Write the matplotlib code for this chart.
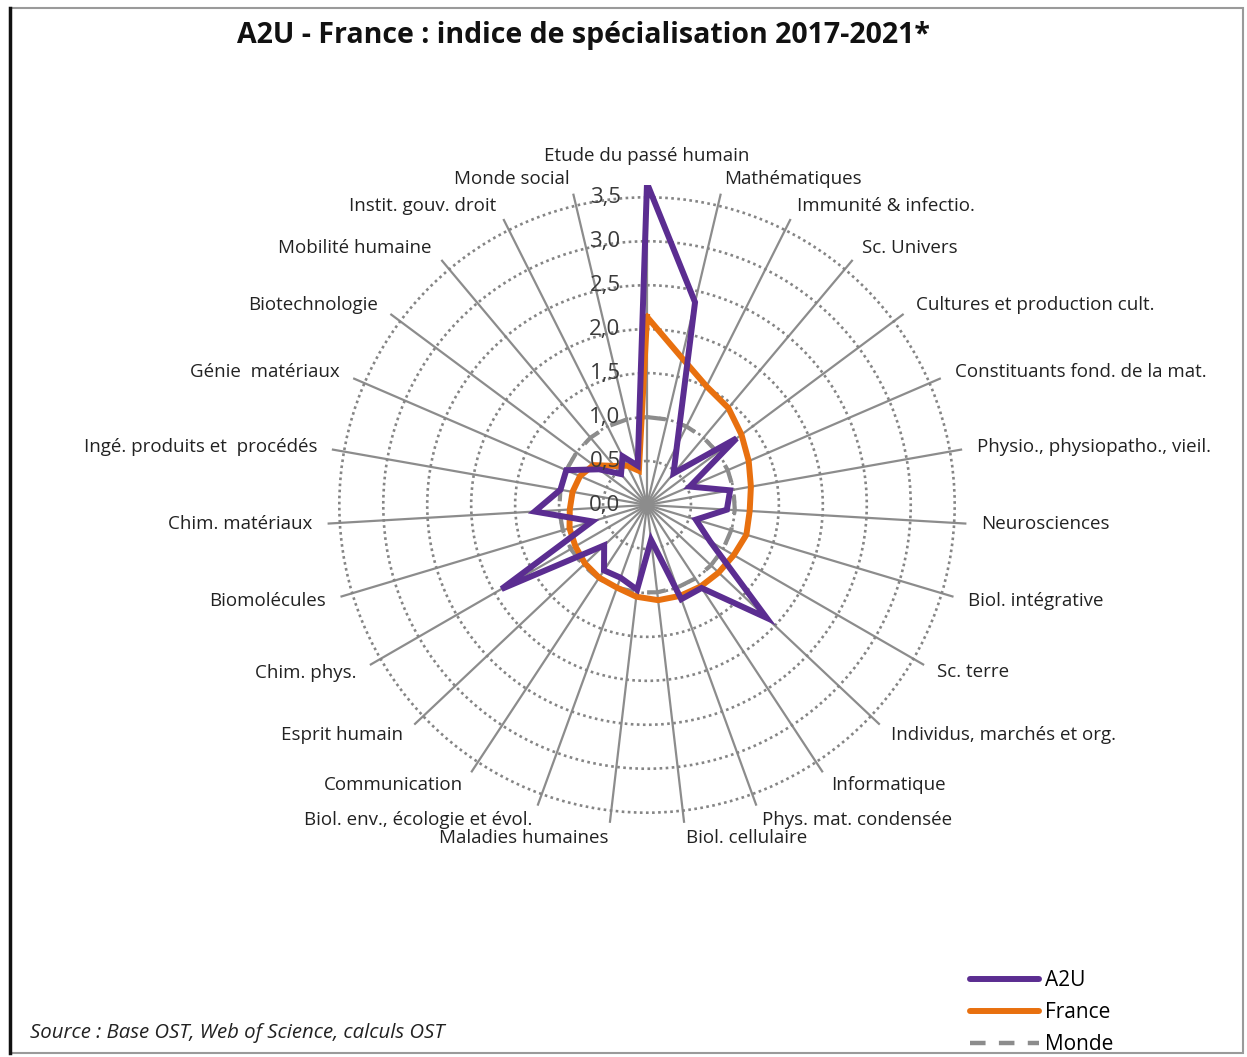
import numpy as np
import matplotlib
matplotlib.use("Agg")
import matplotlib.pyplot as plt
from matplotlib.lines import Line2D
from matplotlib.patches import Rectangle

plt.rcParams['font.family'] = ['Open Sans', 'DejaVu Sans']

# Disciplines, clockwise from the top
categories = [
    "Etude du passé humain", "Mathématiques", "Immunité & infectio.", "Sc. Univers",
    "Cultures et production cult.", "Constituants fond. de la mat.",
    "Physio., physiopatho., vieil.", "Neurosciences", "Biol. intégrative", "Sc. terre",
    "Individus, marchés et org.", "Informatique", "Phys. mat. condensée",
    "Biol. cellulaire", "Maladies humaines", "Biol. env., écologie et évol.",
    "Communication", "Esprit humain", "Chim. phys.", "Biomolécules", "Chim. matériaux",
    "Ingé. produits et  procédés", "Génie  matériaux", "Biotechnologie",
    "Mobilité humaine", "Instit. gouv. droit", "Monde social",
]

a2u = [3.66, 2.37, 0.76, 0.47, 1.27, 0.53, 0.96, 0.91, 0.58, 0.83,
       1.87, 1.13, 1.14, 0.40, 0.97, 0.88, 0.89, 0.67, 1.91, 0.65,
       1.28, 1.00, 1.00, 0.68, 0.46, 0.62, 0.46]

france = [2.14, 1.72, 1.51, 1.44, 1.34, 1.26, 1.20, 1.17, 1.18, 1.14,
          1.12, 1.11, 1.10, 1.09, 1.05, 1.00, 0.99, 0.97, 0.94, 0.92,
          0.88, 0.86, 0.83, 0.76, 0.58, 0.50, 0.40]

monde = [1.0] * len(categories)

r_ticks = [0.0, 0.5, 1.0, 1.5, 2.0, 2.5, 3.0, 3.5]
r_tick_labels = ["0,0", "0,5", "1,0", "1,5", "2,0", "2,5", "3,0", "3,5"]
r_max = 3.64

title = "A2U - France : indice de spécialisation 2017-2021*"
source = "Source : Base OST, Web of Science, calculs OST"

PURPLE = "#5b2d91"
ORANGE = "#e8700f"
GREY = "#8c8c8c"
TEXT = "#222222"

W, H = 1247, 1057
fig = plt.figure(figsize=(W / 100, H / 100), dpi=100)
fig.patch.set_facecolor("white")

# polar axes: centre (647, 505) px, outer radius 320 px
cx, cy, R = 647, 505, 320
ax = fig.add_axes([(cx - R) / W, (H - cy - R) / H, 2 * R / W, 2 * R / H],
                  projection="polar")
ax.set_theta_zero_location("N")
ax.set_theta_direction(-1)
ax.set_ylim(0, r_max)
ax.spines["polar"].set_visible(False)
ax.set_facecolor("none")

n = len(categories)
theta = np.arange(n) * 2 * np.pi / n
ax.set_thetagrids(np.degrees(theta), labels=[""] * n)
ax.set_rgrids(r_ticks[1:], labels=[""] * (len(r_ticks) - 1))
ax.xaxis.grid(True, color=GREY, linewidth=1.6, linestyle="-")
ax.yaxis.grid(True, color="#858585", linewidth=1.9, linestyle=(0, (1, 1.3)))
ax.tick_params(length=0, pad=0)


def closed(vals):
    return np.append(theta, theta[0]), np.append(vals, vals[0])


t, v = closed(monde)
ax.plot(t, v, color=GREY, linewidth=3.0, linestyle=(0, (4.5, 3.2)), zorder=3)
t, v = closed(france)
ax.plot(t, v, color=ORANGE, linewidth=4.3, zorder=4, solid_joinstyle="miter")
t, v = closed(a2u)
ax.plot(t, v, color=PURPLE, linewidth=4.3, zorder=5, solid_joinstyle="miter")

# radial scale labels, left of the vertical spoke
for rv, lab in zip(r_ticks, r_tick_labels):
    ax.annotate(lab, xy=(0, rv), xytext=(-19, 0), textcoords="offset points",
                ha="right", va="center", fontsize=16, color="#3a3a3a",
                zorder=6, annotation_clip=False)

# category labels around the chart
px_per_unit = R / r_max
for ang, lab in zip(theta, categories):
    s = np.sin(ang)
    if abs(s) < 0.05:
        ax.text(ang, 349 / px_per_unit, lab, ha="center", va="center",
                fontsize=13.5, color=TEXT, clip_on=False)
    else:
        ax.text(ang, 335 / px_per_unit, lab, ha="left" if s > 0 else "right",
                va="center", fontsize=13.5, color=TEXT, clip_on=False)

fig.text(583 / W, 1 - 36 / H, title, ha="center", va="center",
         fontsize=20.5, fontweight="bold", color="#111111")
fig.text(30 / W, 1 - 1033 / H, source, ha="left", va="center",
         fontsize=14.7, style="italic", color=TEXT)

handles = [
    Line2D([], [], color=PURPLE, linewidth=4.3, solid_capstyle="round"),
    Line2D([], [], color=ORANGE, linewidth=4.3, solid_capstyle="round"),
    Line2D([], [], color=GREY, linewidth=3.2, linestyle=(0, (3.5, 3))),
]
fig.legend(handles, ["A2U", "France", "Monde"], loc="upper left",
           bbox_to_anchor=(970 / W, 1 - 970 / H), frameon=False,
           fontsize=15, handlelength=3.3, handletextpad=0.3,
           labelspacing=0.53, borderpad=0, borderaxespad=0)

# chart frame
fig.patches.append(Rectangle((10 / W, 4 / H), 1233 / W, 1045 / H,
                             transform=fig.transFigure, fill=False,
                             edgecolor="#9a9a9a", linewidth=1.5))
fig.lines.append(Line2D([10 / W, 10 / W], [4 / H, 1049 / H],
                        transform=fig.transFigure, color="#111111",
                        linewidth=2.5))

fig.savefig("out.png", dpi=100)
